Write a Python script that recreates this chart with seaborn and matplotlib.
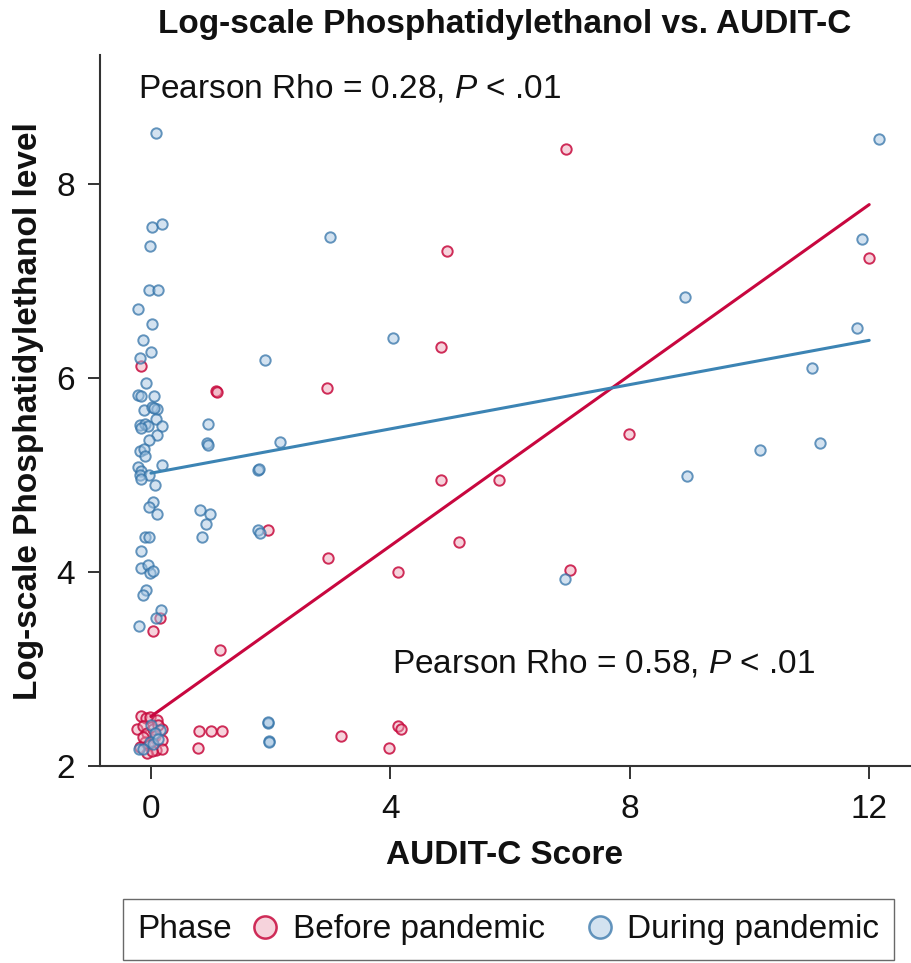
import matplotlib.pyplot as plt
from matplotlib.lines import Line2D
from matplotlib.offsetbox import HPacker
import pandas as pd
import seaborn as sns

sns.set_theme(style="ticks")
plt.rcParams['font.family'] = ['Liberation Sans', 'DejaVu Sans']
plt.rcParams['mathtext.fontset'] = 'custom'
plt.rcParams['mathtext.it'] = 'Liberation Sans:italic'
plt.rcParams['mathtext.rm'] = 'Liberation Sans'
plt.rcParams['text.color'] = '#111111'
plt.rcParams['axes.labelcolor'] = '#111111'
plt.rcParams['xtick.color'] = '#111111'
plt.rcParams['ytick.color'] = '#111111'

# data (AUDIT-C score is jittered around the integer values)
before_x = [-0.16, -0.08, -0.02, 0.11, -0.23, -0.14, -0.07, 0.04, 0.18, -0.10,
            0.07, 0.18, -0.18, -0.05, 0.09, 0.18, -0.07, 0.01, -0.14, 0.12,
            0.81, 1.01, 1.19, 0.79, 3.18, 4.12, 4.18, 3.98, 1.15, 0.16,
            0.03, -0.17, 1.08, 1.10, 2.94, 4.85, 4.95, 6.93, 12.0, 7.98,
            4.84, 5.82, 1.95, 2.96, 4.12, 5.14, 7.0]
before_y = [2.52, 2.49, 2.51, 2.47, 2.38, 2.41, 2.34, 2.38, 2.38, 2.25,
            2.31, 2.27, 2.20, 2.22, 2.16, 2.18, 2.13, 2.15, 2.30, 2.42,
            2.36, 2.36, 2.36, 2.19, 2.31, 2.41, 2.38, 2.19, 3.20, 3.53,
            3.39, 6.13, 5.87, 5.86, 5.90, 6.32, 7.31, 8.36, 7.24, 5.42,
            4.95, 4.95, 4.43, 4.14, 4.00, 4.31, 4.02]

during_x = [0.08, 0.01, 0.18, -0.02, -0.04, 0.12, -0.21, 0.01, -0.13, 0.0,
            -0.18, -0.09, -0.22, -0.16, 0.05, -0.11, 0.02, 0.10, 0.05, 0.09,
            -0.18, -0.10, -0.05, -0.16, 0.18, 0.11, -0.03, -0.18, -0.11, -0.10,
            -0.21, -0.16, -0.18, -0.03, -0.16, 0.18, 0.07, 0.03, -0.03, 0.11,
            -0.10, -0.03, -0.16, -0.16, -0.05, -0.02, 0.04, -0.09, -0.14, 0.17,
            0.08, -0.20,
            0.96, 0.94, 0.95, 0.82, 0.98, 0.92, 0.86,
            1.91, 2.15, 1.79, 1.80, 1.79, 1.83, 1.96, 1.97, 1.96, 1.97,
            3.0, 4.05, 6.91, 8.93, 8.96, 10.17, 11.04, 11.18, 11.79, 11.88, 12.17,
            0.0, 0.15, 0.07, -0.02, 0.04, 0.12, -0.20, -0.13]
during_y = [8.53, 7.56, 7.59, 7.36, 6.91, 6.91, 6.71, 6.56, 6.39, 6.27,
            6.21, 5.95, 5.83, 5.82, 5.82, 5.67, 5.70, 5.68, 5.69, 5.58,
            5.52, 5.53, 5.51, 5.49, 5.51, 5.41, 5.36, 5.25, 5.27, 5.20,
            5.08, 5.04, 5.00, 5.00, 4.96, 5.10, 4.90, 4.72, 4.67, 4.60,
            4.36, 4.36, 4.22, 4.04, 4.07, 3.99, 4.01, 3.82, 3.76, 3.61,
            3.53, 3.44,
            5.53, 5.33, 5.31, 4.64, 4.60, 4.50, 4.36,
            6.19, 5.34, 5.05, 5.06, 4.43, 4.40, 2.44, 2.26, 2.45, 2.25,
            7.46, 6.41, 3.93, 6.84, 4.99, 5.26, 6.10, 5.33, 6.52, 7.43, 8.47,
            2.42, 2.37, 2.34, 2.25, 2.23, 2.28, 2.17, 2.18]

# fitted lines
fit_x = [0, 12]
fit_before = [2.51, 7.79]
fit_during = [5.02, 6.39]

phases = ['Before pandemic', 'During pandemic']
edge_colors = {'Before pandemic': (0.78, 0.04, 0.24, 0.85), 'During pandemic': (0.20, 0.45, 0.66, 0.75)}
face_colors = {'Before pandemic': (0.93, 0.62, 0.70, 0.45), 'During pandemic': (0.66, 0.78, 0.89, 0.5)}
line_colors = {'Before pandemic': '#C8073F', 'During pandemic': '#3C84B4'}

fts = 24

df = pd.concat([
    pd.DataFrame({'AUDIT-C': before_x, 'PEth': before_y, 'Phase': phases[0]}),
    pd.DataFrame({'AUDIT-C': during_x, 'PEth': during_y, 'Phase': phases[1]}),
])

fig = plt.figure(figsize=(9.11, 9.63), dpi=100)
ax = fig.add_axes([0.1098, 0.2046, 0.889, 0.738])

for phase in phases:
    sub = df[df['Phase'] == phase]
    sns.scatterplot(data=sub, x='AUDIT-C', y='PEth', color=face_colors[phase],
                    edgecolor=edge_colors[phase], linewidth=1.4, s=56, ax=ax, zorder=2)

sns.lineplot(x=fit_x, y=fit_before, color=line_colors[phases[0]], linewidth=2.2, ax=ax, zorder=3)
sns.lineplot(x=fit_x, y=fit_during, color=line_colors[phases[1]], linewidth=2.2, ax=ax, zorder=3)

ax.text(-0.22, 8.99, 'Pearson Rho = 0.28, $\\mathit{P}$ < .01', fontsize=fts, va='center', ha='left')
ax.text(4.02, 3.06, 'Pearson Rho = 0.58, $\\mathit{P}$ < .01', fontsize=fts, va='center', ha='left')

ax.set_xlim(-0.85, 12.68)
ax.set_ylim(2, 9.33)
ax.set_xticks([0, 4, 8, 12])
ax.set_yticks([2, 4, 6, 8])
ax.set_title('Log-scale Phosphatidylethanol vs. AUDIT-C', fontsize=fts, fontweight='bold', pad=16)
ax.set_xlabel('AUDIT-C Score', fontsize=fts, fontweight='bold', labelpad=11)
ax.set_ylabel('Log-scale Phosphatidylethanol level', fontsize=fts, fontweight='bold', labelpad=9)
ax.tick_params(axis='both', labelsize=fts, length=9, width=1.4, color='#333')
ax.tick_params(axis='y', pad=9)
ax.tick_params(axis='x', pad=11)
sns.despine(ax=ax)
for side in ['left', 'bottom']:
    ax.spines[side].set_linewidth(1.5)
    ax.spines[side].set_color('#333')

# legend, with the "Phase" title placed inline before the entries
handles = []
for phase in phases:
    handles.append(Line2D([], [], linestyle='', marker='o', markersize=16,
                          markerfacecolor=face_colors[phase], markeredgecolor=edge_colors[phase],
                          markeredgewidth=1.8, label=phase))
leg = fig.legend(handles=handles, title='Phase', title_fontsize=fts, loc='center',
                 bbox_to_anchor=(0.558, 0.0344), ncol=2, fontsize=fts,
                 handlelength=0.8, handletextpad=0.42, columnspacing=1.25,
                 borderpad=0.45, fancybox=False, frameon=True)
row = HPacker(children=[leg._legend_title_box, leg._legend_handle_box],
              align='center', pad=0, sep=0.6 * fts)
row.set_figure(fig)
leg._legend_box._children = [row]
leg.get_frame().set_edgecolor('#444')
leg.get_frame().set_linewidth(1.0)

plt.savefig('out.png', dpi=100)
plt.close()
